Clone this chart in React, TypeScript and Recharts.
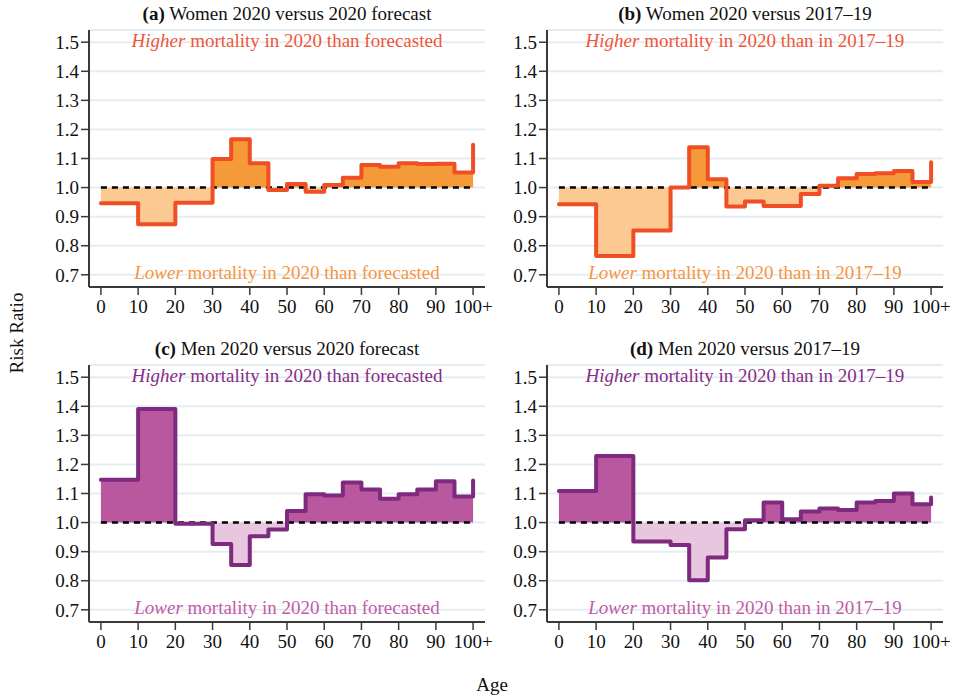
import React from 'react';
import { ComposedChart, Area, Line, XAxis, YAxis, CartesianGrid, ReferenceLine } from 'recharts';

// Age group starts (last point = 100+)
const AGES = [0, 10, 20, 30, 35, 40, 45, 50, 55, 60, 65, 70, 75, 80, 85, 90, 95, 100];

const WOMEN_VS_FORECAST = [0.946, 0.874, 0.948, 1.098, 1.166, 1.084, 0.992, 1.012, 0.986, 1.009, 1.034, 1.078, 1.072, 1.084, 1.081, 1.082, 1.052, 1.147];
const WOMEN_VS_2017_19 = [0.943, 0.765, 0.852, 1.0, 1.139, 1.029, 0.935, 0.952, 0.937, 0.937, 0.978, 1.006, 1.032, 1.047, 1.049, 1.057, 1.019, 1.087];
const MEN_VS_FORECAST = [1.147, 1.391, 0.996, 0.926, 0.854, 0.953, 0.976, 1.04, 1.097, 1.093, 1.138, 1.114, 1.082, 1.097, 1.114, 1.142, 1.09, 1.145];
const MEN_VS_2017_19 = [1.109, 1.229, 0.935, 0.923, 0.802, 0.88, 0.977, 1.008, 1.069, 1.011, 1.038, 1.048, 1.043, 1.069, 1.074, 1.1, 1.063, 1.086];

const X_TICKS = [0, 10, 20, 30, 40, 50, 60, 70, 80, 90, 100];
const Y_TICKS = [0.7, 0.8, 0.9, 1.0, 1.1, 1.2, 1.3, 1.4, 1.5];

const PANEL_TITLES = [
  ['(a)', ' Women 2020 versus 2020 forecast'],
  ['(b)', ' Women 2020 versus 2017\u201319'],
  ['(c)', ' Men 2020 versus 2020 forecast'],
  ['(d)', ' Men 2020 versus 2017\u201319'],
];
const HIGHER_TEXTS = [' mortality in 2020 than forecasted', ' mortality in 2020 than in 2017\u201319', ' mortality in 2020 than forecasted', ' mortality in 2020 than in 2017\u201319'];
const LOWER_TEXTS = HIGHER_TEXTS;

const WOMEN = { line: '#f04e24', up: '#f59a38', down: '#fdc993', hiText: '#f0553a', loText: '#f7953f' };
const MEN = { line: '#7e2a7e', up: '#b9589e', down: '#e8c6df', hiText: '#862d85', loText: '#c25ba6' };

const FONT = '"Liberation Serif", "Times New Roman", serif';
const AXIS_COLOR = '#3a3a3a';

function buildRows(values: number[]) {
  return AGES.map((age, i) => ({
    age,
    v: values[i],
    up: Math.max(values[i], 1),
    down: Math.min(values[i], 1),
  }));
}

const CHART_W = 498;
const RIGHT_M = 13;
const CHART_H = 327;
const YAXIS_W = 89;

function Panel({ values, colors, left, top }: { values: number[]; colors: typeof WOMEN; left: number; top: number }) {
  const rows = buildRows(values);
  return (
    <div style={{ position: 'absolute', left, top, width: CHART_W, height: CHART_H }}>
      <ComposedChart width={CHART_W} height={CHART_H} data={rows} margin={{ top: 30, right: RIGHT_M, bottom: 0, left: 0 }} style={{ overflow: 'visible' }}>
        <CartesianGrid vertical={false} stroke="#e4eef2" strokeWidth={2} />
        <XAxis
          dataKey="age"
          type="number"
          domain={[-3.2, 103.2]}
          ticks={X_TICKS}
          allowDataOverflow
          interval={0}
          height={40}
          tickSize={8}
          tickMargin={5}
          tickFormatter={(t: number) => (t === 100 ? '100+' : String(t))}
          tick={{ fill: '#111', fontSize: 19, fontFamily: FONT }}
          axisLine={{ stroke: AXIS_COLOR, strokeWidth: 2 }}
          tickLine={{ stroke: AXIS_COLOR, strokeWidth: 1.5 }}
        />
        <YAxis
          type="number"
          domain={[0.658, 1.542]}
          ticks={Y_TICKS}
          allowDataOverflow
          interval={0}
          width={YAXIS_W}
          tickSize={8}
          tickMargin={2}
          tickFormatter={(t: number) => t.toFixed(1)}
          tick={{ fill: '#111', fontSize: 19, fontFamily: FONT }}
          axisLine={{ stroke: AXIS_COLOR, strokeWidth: 2 }}
          tickLine={{ stroke: AXIS_COLOR, strokeWidth: 1.5 }}
        />
        <Area type="stepAfter" dataKey="down" baseValue={1} stroke="none" fill={colors.down} fillOpacity={1} isAnimationActive={false} />
        <Area type="stepAfter" dataKey="up" baseValue={1} stroke="none" fill={colors.up} fillOpacity={1} isAnimationActive={false} />
        <ReferenceLine segment={[{ x: 0, y: 1 }, { x: 100, y: 1 }]} stroke="#000" strokeWidth={2.5} strokeDasharray="6 5" />
        <Line
          type="stepAfter"
          dataKey="v"
          stroke={colors.line}
          strokeWidth={4}
          strokeLinejoin="round"
          strokeLinecap="round"
          dot={false}
          activeDot={false}
          isAnimationActive={false}
        />
      </ComposedChart>
    </div>
  );
}

const PANELS = [
  { values: WOMEN_VS_FORECAST, colors: WOMEN, left: 0, top: 0 },
  { values: WOMEN_VS_2017_19, colors: WOMEN, left: 458, top: 0 },
  { values: MEN_VS_FORECAST, colors: MEN, left: 0, top: 335 },
  { values: MEN_VS_2017_19, colors: MEN, left: 458, top: 335 },
];

export default function App() {
  return (
    <div style={{ position: 'absolute', left: 0, top: 0, width: 956, height: 700, background: '#fff', overflow: 'hidden' }}>
      {PANELS.map((p, i) => (
        <Panel key={i} values={p.values} colors={p.colors} left={p.left} top={p.top} />
      ))}
      <svg width={956} height={700} style={{ position: 'absolute', left: 0, top: 0, pointerEvents: 'none' }} fontFamily={FONT} fontSize={19}>
        {PANELS.map((p, i) => {
          const cx = p.left + YAXIS_W + (CHART_W - RIGHT_M - YAXIS_W) / 2;
          const plotTop = p.top + 30;
          const plotBottom = p.top + CHART_H - 40;
          return (
            <g key={i}>
              <text x={cx} y={plotTop - 10} textAnchor="middle" fill="#111">
                <tspan fontWeight="bold">{PANEL_TITLES[i][0]}</tspan>
                <tspan>{PANEL_TITLES[i][1]}</tspan>
              </text>
              <text x={cx} y={plotTop + 16.5} textAnchor="middle" fill={p.colors.hiText}>
                <tspan fontStyle="italic">Higher</tspan>
                <tspan>{HIGHER_TEXTS[i]}</tspan>
              </text>
              <text x={cx} y={plotBottom - 8} textAnchor="middle" fill={p.colors.loText}>
                <tspan fontStyle="italic">Lower</tspan>
                <tspan>{LOWER_TEXTS[i]}</tspan>
              </text>
            </g>
          );
        })}
        <text x={23} y={333} textAnchor="middle" fill="#111" transform="rotate(-90 23 333)">Risk Ratio</text>
        <text x={492} y={691} textAnchor="middle" fill="#111">Age</text>
      </svg>
    </div>
  );
}
